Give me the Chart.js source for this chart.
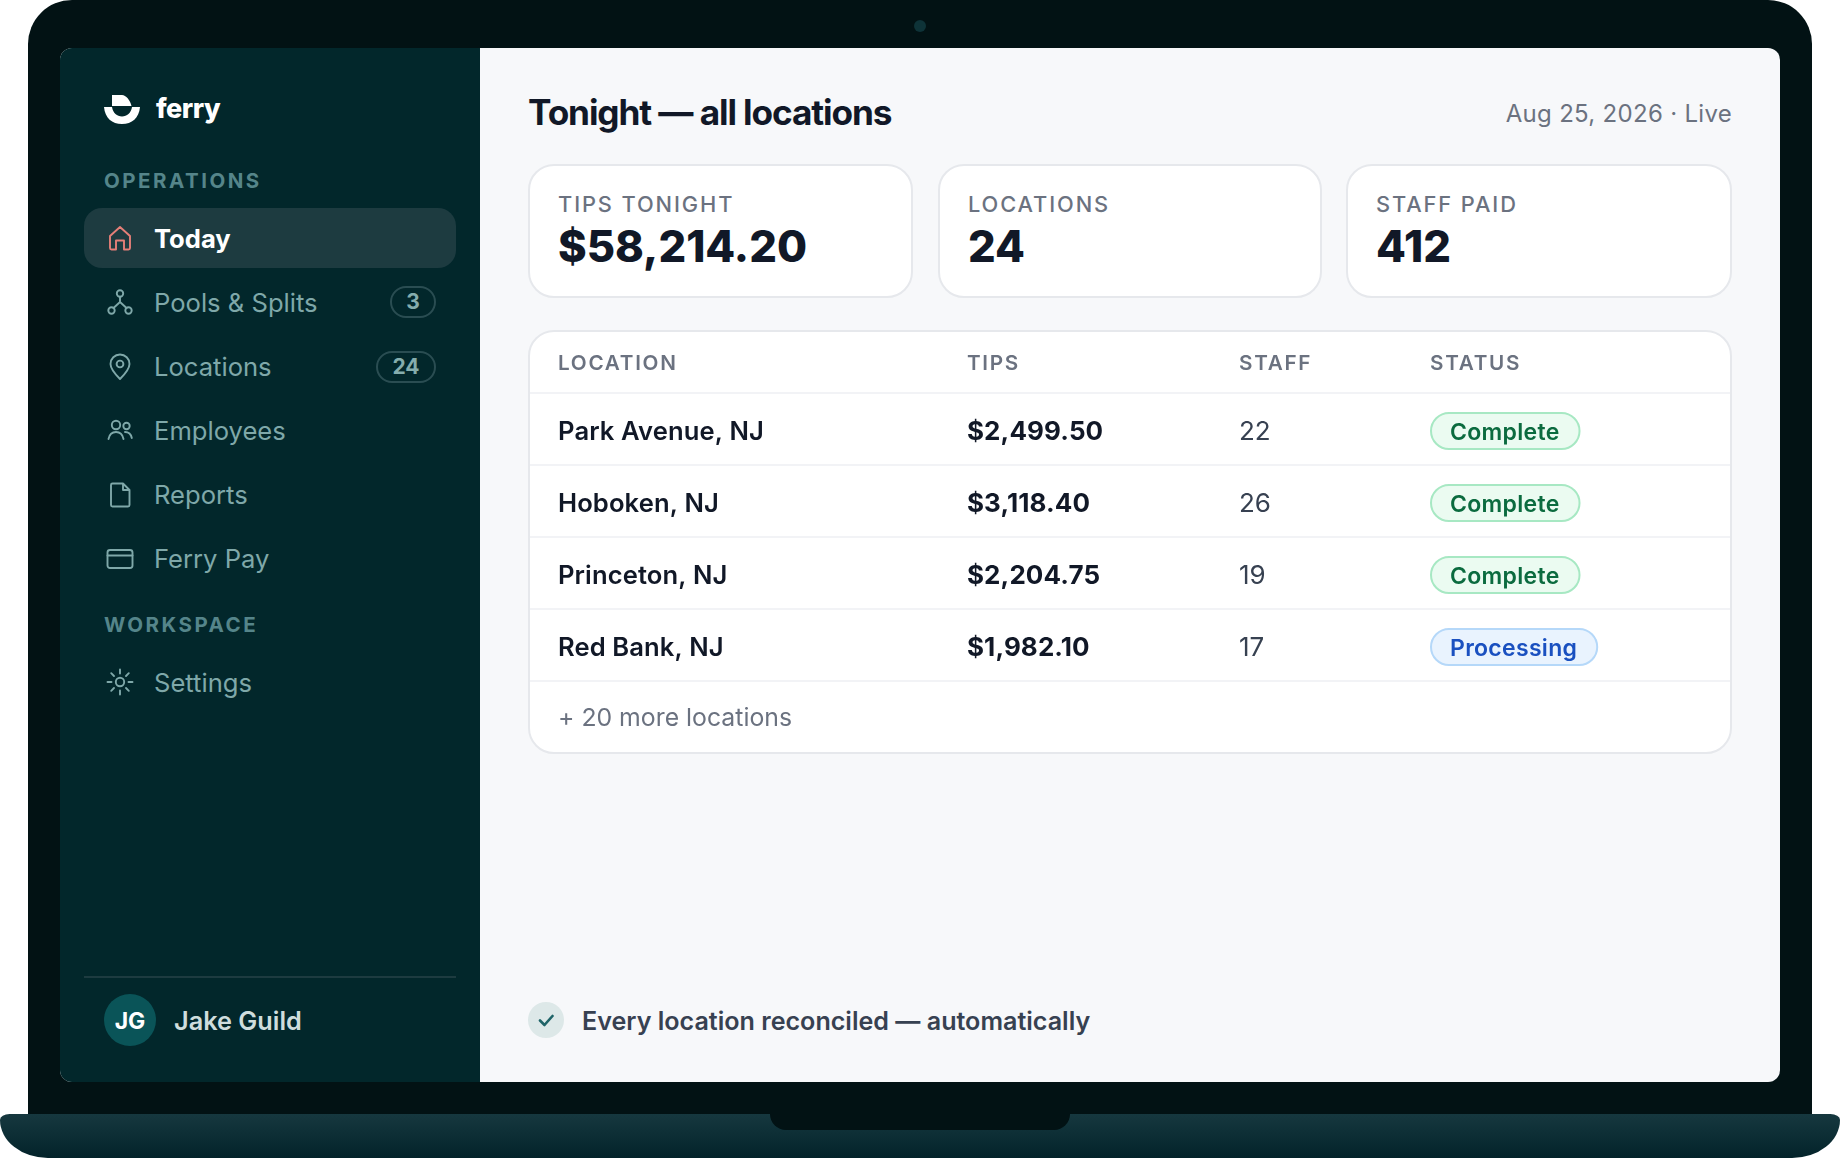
<!DOCTYPE html>
<html>
<head>
<meta charset="utf-8">
<title>Tonight - all locations</title>
<script src="https://cdn.jsdelivr.net/npm/chart.js@4/dist/chart.umd.min.js"></script>
<style>
  html, body { margin: 0; padding: 0; background: #fff; }
  body { width: 1840px; height: 1158px; position: relative; overflow: hidden; font-family: Inter, "Noto Sans", sans-serif; }
  div, span { position: absolute; white-space: nowrap; box-sizing: border-box; }
  #frame { left: 28px; top: 0; width: 1784px; height: 1130px; background: #021214; border-radius: 44px 44px 0 0; }
  #camera { left: 914px; top: 20px; width: 12px; height: 12px; border-radius: 50%; background: #0e3338; }
  #screen { left: 60px; top: 48px; width: 1720px; height: 1034px; background: #f7f8fa; border-radius: 12px; overflow: hidden; }
  #sidebar { left: 60px; top: 48px; width: 420px; height: 1034px; background: #02272b; border-radius: 12px 0 0 12px; }
  #base { left: 0; top: 1114px; width: 1840px; height: 44px; background: linear-gradient(#16383f, #03232a); border-radius: 10px 10px 50px 50px / 6px 6px 40px 40px; }
  #notch { left: 770px; top: 1114px; width: 300px; height: 16px; background: #021214; border-radius: 0 0 18px 18px; }
  #logo { left: 104px; top: 94px; }
  #brand { left: 156px; top: 90px; font-size: 27px; font-weight: 800; color: #fff; line-height: 38px; letter-spacing: -0.5px; }
  .section { left: 104px; font-size: 20.5px; font-weight: 700; color: #55858a; letter-spacing: 2.5px; line-height: 24px; }
  #active { left: 84px; top: 208px; width: 372px; height: 60px; background: #1d3b40; border-radius: 18px; }
  .nav { left: 154px; font-size: 25.6px; font-weight: 400; color: #7fa8a9; line-height: 32px; }
  .nav.on { color: #fff; font-weight: 700; }
  .badge { height: 32px; border: 2px solid #2a4d52; border-radius: 16px; text-align: center; color: #85adad; font-size: 21px; font-weight: 700; line-height: 28px; }
  #rule { left: 84px; top: 976px; width: 372px; height: 2px; background: #1d3b40; }
  #avatar { left: 104px; top: 994px; width: 52px; height: 52px; border-radius: 50%; background: #0a5458; color: #fff; text-align: center; font-size: 23px; font-weight: 700; line-height: 54px; }
  #user { left: 174px; top: 1005px; font-size: 25.3px; font-weight: 600; color: #cfdddd; line-height: 32px; }
  #title { left: 528px; top: 89px; font-size: 35.2px; font-weight: 650; color: #111827; line-height: 46px; letter-spacing: -1.1px; }
  #stamp { right: 108px; top: 98px; font-size: 24px; color: #6b7280; line-height: 32px; letter-spacing: 0.3px; }
  .card { top: 164px; height: 134px; background: #fff; border: 2px solid #e6e8ec; border-radius: 26px; }
  .label { left: 28px; top: 24px; font-size: 21.8px; font-weight: 500; color: #6b7280; letter-spacing: 1.9px; line-height: 28px; }
  .value { left: 28px; top: 52px; font-size: 43.5px; font-weight: 800; color: #111827; line-height: 56px; }
  #tableCard { left: 528px; top: 330px; width: 1204px; height: 424px; background: #fff; border: 2px solid #e6e8ec; border-radius: 26px; overflow: hidden; }
  #tableChart { position: absolute; left: 0; top: 1px; }
  #tick { left: 528px; top: 1002px; width: 36px; height: 36px; border-radius: 50%; background: #dde8e8; }
  #footNote { left: 582px; top: 1005px; font-size: 25.1px; font-weight: 600; color: #374151; line-height: 32px; }
</style>
</head>
<body>
<div id="frame"></div>
<div id="camera"></div>
<div id="screen"></div>
<div id="sidebar"></div>
<div id="base"></div>
<div id="notch"></div>

<svg id="logo" style="position:absolute" width="38" height="32" viewBox="0 0 38 32">
  <path d="M8 1 H18 C22 1 26 6 27.5 12 H8 Z" fill="#fff"/>
  <path d="M0 13 H8 C9 19 13 22.5 18 22.5 C23 22.5 27 19 28 13 H36 C35 24 28 30 18 30 C8 30 1 24 0 13 Z" fill="#fff"/>
</svg>
<div id="brand">ferry</div>

<div class="section" style="top:169px">OPERATIONS</div>
<div id="active"></div>
<div class="section" style="top:613px">WORKSPACE</div>
<div id="rule"></div>
<div id="avatar">JG</div>
<div id="user">Jake Guild</div>

<div id="title">Tonight — all locations</div>
<div id="stamp">Aug 25, 2026 · Live</div>

<div id="tableCard"><canvas id="tableChart" width="1200" height="420"></canvas></div>

<div id="tick">
  <svg style="position:absolute;left:0;top:0" width="36" height="36" viewBox="0 0 36 36"><path d="M12 18.5 L16.5 23 L24.5 14" fill="none" stroke="#1f6468" stroke-width="2.6" stroke-linecap="round" stroke-linejoin="round"/></svg>
</div>
<div id="footNote">Every location reconciled — automatically</div>

<script>
// Table contents
const columnLabels = ['LOCATION', 'TIPS', 'STAFF', 'STATUS'];
const locations = ['Park Avenue, NJ', 'Hoboken, NJ', 'Princeton, NJ', 'Red Bank, NJ'];
const tipAmounts = [2499.50, 3118.40, 2204.75, 1982.10];
const staffCounts = [22, 26, 19, 17];
const statuses = ['Complete', 'Complete', 'Complete', 'Processing'];
const moreRow = '+ 20 more locations';

// Summary cards
const cardLabels = ['TIPS TONIGHT', 'LOCATIONS', 'STAFF PAID'];
const cardValues = ['$58,214.20', '24', '412'];

// Sidebar
const navItems = ['Today', 'Pools & Splits', 'Locations', 'Employees', 'Reports', 'Ferry Pay', 'Settings'];
const navBadges = [null, '3', '24', null, null, null, null];

// Layout, kept apart from the values above
const navTops = [238, 302, 367, 431, 495, 559, 682];
const navTextShift = [1, 1, 0, 0, 0, 0, 1];
const cardLefts = [528, 938, 1346];
const cardWidths = [385, 384, 386];
const columnStops = [0, 409, 681, 872];
const pillStyles = {
    Complete: { fill: '#ebfbf1', line: '#a7e8c3', text: '#0b6b3f' },
    Processing: { fill: '#e9f3fe', line: '#b5d8f9', text: '#1a50c0' },
};

const iconPaths = [
    '<path d="M4 12 L14 3 L24 12 V24 a1.5 1.5 0 0 1 -1.5 1.5 H18 V16.5 H10 V25.5 H5.5 A1.5 1.5 0 0 1 4 24 Z" stroke="#e57f78"/>',
    '<circle cx="14" cy="5.5" r="3.2"/><circle cx="5.5" cy="22.5" r="3.2"/><circle cx="22.5" cy="22.5" r="3.2"/><path d="M14 8.7 V14 L7.5 20 M14 14 L20.5 20"/>',
    '<path d="M14 26 C8 20 4.5 15.5 4.5 11 a9.5 9.5 0 0 1 19 0 C23.5 15.5 20 20 14 26 Z"/><circle cx="14" cy="11" r="3.4"/>',
    '<circle cx="10" cy="8" r="4.2"/><circle cx="20.5" cy="9" r="3.2"/><path d="M2.5 22 C3.5 17 6.5 15 10 15 C13.5 15 16.5 17 17.5 22 M19 15 C22.5 15 25 17 25.8 21"/>',
    '<path d="M6.5 2.5 H17 L23.5 9 V24 a1.5 1.5 0 0 1 -1.5 1.5 H6.5 A1.5 1.5 0 0 1 5 24 V4 a1.5 1.5 0 0 1 1.5 -1.5 Z M17 2.5 V9 H23.5"/>',
    '<rect x="1.5" y="5" width="25" height="18" rx="2.5"/><path d="M1.5 10.5 H26.5"/>',
    '<circle cx="14" cy="14" r="4.2"/><path d="M14 1.5 V5.5 M14 22.5 V26.5 M1.5 14 H5.5 M22.5 14 H26.5 M5.2 5.2 L8 8 M20 20 L22.8 22.8 M5.2 22.8 L8 20 M20 8 L22.8 5.2"/>',
];

// Sidebar rows
navItems.forEach((name, i) => {
    const row = document.createElement('div');
    row.className = i === 0 ? 'nav on' : 'nav';
    row.style.top = (navTops[i] - 16 + navTextShift[i]) + 'px';
    row.textContent = name;
    document.body.appendChild(row);

    const icon = document.createElementNS('http://www.w3.org/2000/svg', 'svg');
    icon.setAttribute('viewBox', '0 0 28 28');
    icon.setAttribute('width', 28);
    icon.setAttribute('height', 28);
    icon.setAttribute('style', `position:absolute;left:106px;top:${navTops[i] - 14}px;fill:none;stroke:#7fa8a9;stroke-width:1.9;stroke-linejoin:round;stroke-linecap:round`);
    icon.innerHTML = iconPaths[i];
    document.body.appendChild(icon);

    if (navBadges[i]) {
        const badge = document.createElement('div');
        const w = navBadges[i].length > 1 ? 60 : 46;
        badge.className = 'badge';
        badge.style.left = (436 - w) + 'px';
        badge.style.width = w + 'px';
        badge.style.top = (navTops[i] - 16) + 'px';
        badge.textContent = navBadges[i];
        document.body.appendChild(badge);
    }
});

// Summary cards
cardLabels.forEach((label, i) => {
    const card = document.createElement('div');
    card.className = 'card';
    card.style.left = cardLefts[i] + 'px';
    card.style.width = cardWidths[i] + 'px';
    card.innerHTML = `<div class="label">${label}</div><div class="value">${cardValues[i]}</div>`;
    document.body.appendChild(card);
});

const money = new Intl.NumberFormat('en-US', { style: 'currency', currency: 'USD' });

// One invisible point per cell, the cell text is hung on the point
const cellData = (column, count) => Array.from({ length: count }, (_, i) => ({ x: columnStops[column], y: i + 0.5 }));

const cellText = {
    id: 'cellText',
    beforeDraw(chart) {
        chart.ctx.letterSpacing = '1.7px';
    },
    afterDatasetsDraw(chart) {
        const ctx = chart.ctx;
        ctx.save();
        ctx.letterSpacing = '0px';
        ctx.textBaseline = 'middle';
        ctx.textAlign = 'left';
        chart.data.datasets.forEach((ds, d) => {
            chart.getDatasetMeta(d).data.forEach((pt, i) => {
                const y = pt.y + ds.nudge;
                if (ds.kind === 'status') {
                    const s = pillStyles[ds.texts[i]];
                    ctx.font = '600 23px Inter';
                    ctx.letterSpacing = '0.3px';
                    const w = ctx.measureText(ds.texts[i]).width + 41;
                    ctx.beginPath();
                    ctx.roundRect(pt.x + 1, y - 19, w - 2, 36, 18);
                    ctx.fillStyle = s.fill;
                    ctx.fill();
                    ctx.strokeStyle = s.line;
                    ctx.lineWidth = 2;
                    ctx.stroke();
                    ctx.fillStyle = s.text;
                    ctx.fillText(ds.texts[i], pt.x + 20, y + 1);
                    ctx.letterSpacing = '0px';
                    return;
                }
                ctx.font = ds.font;
                ctx.letterSpacing = ds.spacing;
                ctx.fillStyle = ds.color;
                ctx.fillText(ds.texts[i], pt.x, y);
            });
        });
        ctx.restore();
    },
};

new Chart(document.getElementById('tableChart'), {
    type: 'scatter',
    data: {
        datasets: [
            { label: 'Location', nudge: 3, data: cellData(0, locations.length), texts: locations, font: '600 25.6px Inter', color: '#111827', spacing: '0.1px' },
            { label: 'Tips', nudge: 3, data: cellData(1, tipAmounts.length), texts: tipAmounts.map(v => money.format(v)), font: '700 26px Inter', color: '#111827', spacing: '0.1px' },
            { label: 'Staff', nudge: 3, data: cellData(2, staffCounts.length), texts: staffCounts.map(String), font: '400 26px Inter', color: '#374151', spacing: '0px' },
            { label: 'Status', nudge: 3, kind: 'status', data: cellData(3, statuses.length), texts: statuses },
            { label: 'More', nudge: 2, data: [{ x: columnStops[0], y: 4.5 }], texts: [moreRow], font: '400 24.8px Inter', color: '#6b7280', spacing: '0px' },
        ],
    },
    options: {
        responsive: false,
        animation: false,
        events: [],
        layout: { padding: 0 },
        elements: { point: { radius: 0 } },
        plugins: { legend: { display: false }, tooltip: { enabled: false } },
        scales: {
            x: {
                type: 'linear',
                position: 'top',
                min: -28,
                max: 1172,
                afterBuildTicks: scale => { scale.ticks = columnStops.map(value => ({ value })); },
                afterFit: scale => { scale.height = 60; },
                grid: { display: false },
                border: { display: false },
                ticks: {
                    callback: (value, i) => columnLabels[i],
                    autoSkip: false,
                    maxRotation: 0,
                    align: 'start',
                    padding: 9,
                    color: '#6b7280',
                    font: { family: 'Inter', size: 20.7, weight: '600' },
                },
            },
            y: {
                type: 'linear',
                reverse: true,
                min: 0,
                max: 5,
                afterBuildTicks: scale => { scale.ticks = [0, 1, 2, 3, 4].map(value => ({ value })); },
                grid: { color: '#f2f3f6', lineWidth: 2, drawTicks: false },
                border: { display: false },
                ticks: { display: false },
            },
        },
    },
    plugins: [cellText],
});
</script>
</body>
</html>
